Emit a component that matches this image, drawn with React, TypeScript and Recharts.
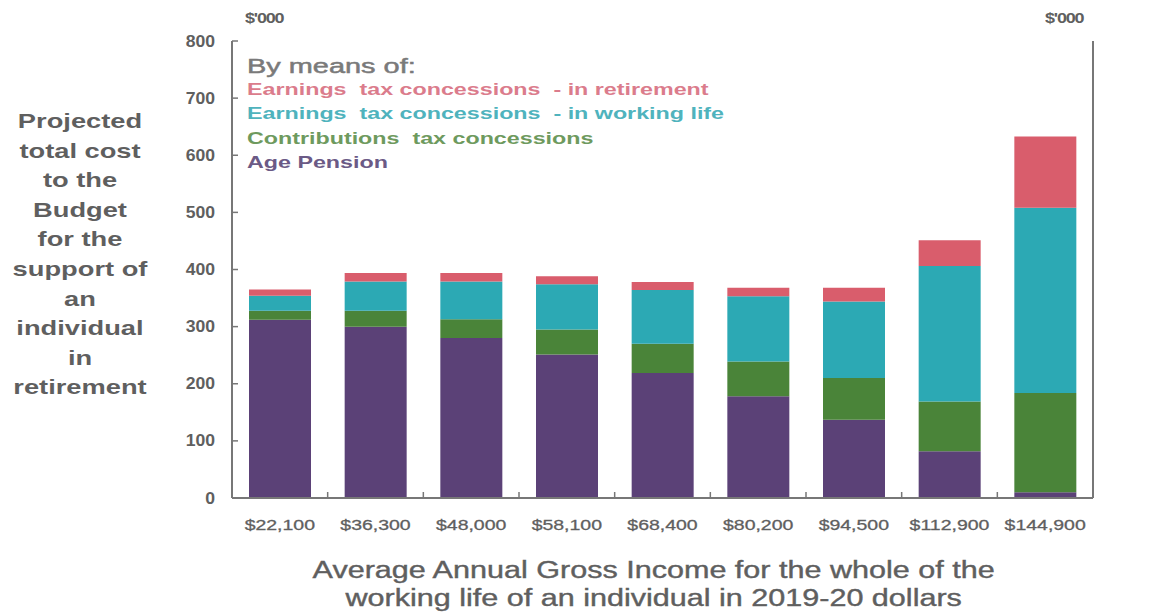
import { Bar, BarChart, XAxis, YAxis } from 'recharts';

// Average annual gross income bands
const incomes = ['$22,100', '$36,300', '$48,000', '$58,100', '$68,400', '$80,200', '$94,500', '$112,900', '$144,900'];

// Projected cost to the Budget, $'000
const agePension = [312, 300, 280, 251, 219, 178, 137, 82, 10];
const contributions = [16, 28, 33, 44, 51, 61, 73, 87, 174];
const workingLife = [26, 51, 66, 79, 94, 114, 134, 237, 324];
const inRetirement = [11, 15, 15, 14, 14, 15, 24, 45, 125];

const yTicks = [0, 100, 200, 300, 400, 500, 600, 700, 800];

const titleLines = ['Projected', 'total cost', 'to the', 'Budget', 'for the', 'support of', 'an', 'individual', 'in', 'retirement'];

const legendItems = [
  { label: 'Earnings  tax concessions  - in retirement', color: '#DB7C8C' },
  { label: 'Earnings  tax concessions  - in working life', color: '#4FB3BD' },
  { label: 'Contributions  tax concessions', color: '#6E9A5E' },
  { label: 'Age Pension', color: '#6B5A86' },
];

const data = incomes.map((income, i) => ({
  income,
  agePension: agePension[i],
  contributions: contributions[i],
  workingLife: workingLife[i],
  inRetirement: inRetirement[i],
}));

const FONT = '"Liberation Sans", Arial, sans-serif';
const AXIS = '#777';
const TEXT = '#5f5f5f';
const BAND = (1093 - 232) / incomes.length;

// the source image is stretched sideways, so text gets a horizontal scale
const LeftTick = ({ x, y, payload }: any) => (
  <g>
    <line x1={x + 12} x2={x + 18} y1={y} y2={y} stroke={AXIS} strokeWidth={1.5} />
    <g transform={`translate(${x - 5},${y}) scale(1.1,1)`}>
      <text x={0} y={0} dy={5.5} textAnchor="end" fontSize={16} fontWeight="bold" fill={TEXT} fontFamily={FONT}>
        {payload.value}
      </text>
    </g>
  </g>
);

const RightTick = ({ x, y, payload }: any) => (
  <g>
    <line x1={x - 18} x2={x - 12} y1={y} y2={y} stroke={AXIS} strokeWidth={1.5} />
    <g transform={`translate(${x + 4},${y}) scale(1.1,1)`}>
      <text x={0} y={0} dy={5.5} textAnchor="start" fontSize={16} fontWeight="bold" fill={TEXT} fontFamily={FONT}>
        {payload.value}
      </text>
    </g>
  </g>
);

const BottomTick = ({ x, y, payload, index }: any) => (
  <g>
    {index > 0 && (
      <line x1={x - BAND / 2} x2={x - BAND / 2} y1={y - 14} y2={y - 20} stroke={AXIS} strokeWidth={1.5} />
    )}
    <g transform={`translate(${x},${y + 18}) scale(1.3,1)`}>
      <text x={0} y={0} textAnchor="middle" fontSize={15} fill={TEXT} fontFamily={FONT} stroke={TEXT} strokeWidth={0.3}>
        {payload.value}
      </text>
    </g>
  </g>
);

export default function App() {
  return (
    <div style={{ position: 'absolute', left: 0, top: 0, width: 1151, height: 615, background: '#fff', fontFamily: FONT, overflow: 'hidden' }}>
      <BarChart
        width={1151}
        height={615}
        data={data}
        margin={{ top: 41, right: 0, left: 172, bottom: 87 }}
        barSize={62}
      >
        <XAxis
          dataKey="income"
          tick={<BottomTick />}
          tickLine={false}
          tickSize={0}
          tickMargin={14}
          height={30}
          stroke={AXIS}
          strokeWidth={2}
        />
        <YAxis
          yAxisId="left"
          domain={[0, 800]}
          ticks={yTicks}
          tick={<LeftTick />}
          tickLine={false}
          tickSize={0}
          tickMargin={12}
          width={60}
          stroke={AXIS}
          strokeWidth={2}
        />
        <YAxis
          yAxisId="right"
          orientation="right"
          domain={[0, 800]}
          ticks={yTicks}
          tick={<RightTick />}
          tickLine={false}
          tickSize={0}
          tickMargin={12}
          width={58}
          stroke={AXIS}
          strokeWidth={2}
        />
        <Bar yAxisId="left" dataKey="agePension" stackId="a" fill="#5B4177" isAnimationActive={false} />
        <Bar yAxisId="left" dataKey="contributions" stackId="a" fill="#4A8439" isAnimationActive={false} />
        <Bar yAxisId="left" dataKey="workingLife" stackId="a" fill="#2CA9B4" isAnimationActive={false} />
        <Bar yAxisId="left" dataKey="inRetirement" stackId="a" fill="#D95D6C" isAnimationActive={false} />
      </BarChart>

      <div style={{ position: 'absolute', left: 245, top: 9, fontSize: 15, fontWeight: 'bold', color: TEXT, letterSpacing: -1, transform: 'scaleX(1.2)', transformOrigin: 'left top' }}>$'000</div>
      <div style={{ position: 'absolute', left: 1045, top: 9, fontSize: 15, fontWeight: 'bold', color: TEXT, letterSpacing: -1, transform: 'scaleX(1.2)', transformOrigin: 'left top' }}>$'000</div>

      <div style={{ position: 'absolute', left: 0, top: 106, width: 160, textAlign: 'center', fontSize: 20.5, fontWeight: 'bold', color: TEXT, lineHeight: '29.6px', transform: 'scaleX(1.33)', transformOrigin: '80px 0' }}>
        {titleLines.map((l) => (
          <div key={l}>{l}</div>
        ))}
      </div>

      <div style={{ position: 'absolute', left: 247, top: 54, fontWeight: 'bold', transform: 'scaleX(1.41)', transformOrigin: 'left top' }}>
        <div style={{ fontSize: 20.5, color: '#7a7a7a', fontWeight: 'normal', lineHeight: '23px', WebkitTextStroke: '0.5px #7a7a7a' }}>By means of:</div>
        {legendItems.map((item) => (
          <div key={item.label} style={{ fontSize: 16.5, color: item.color, lineHeight: '24.3px', whiteSpace: 'pre' }}>
            {item.label}
          </div>
        ))}
      </div>

      <div style={{ position: 'absolute', left: 223, top: 556, width: 861, textAlign: 'center', fontSize: 23.5, color: TEXT, lineHeight: '28px', WebkitTextStroke: '0.4px #5f5f5f', transform: 'scaleX(1.3)', transformOrigin: '430px 0' }}>
        <div>Average Annual Gross Income for the whole of the</div>
        <div>working life of an individual in 2019-20 dollars</div>
      </div>
    </div>
  );
}
